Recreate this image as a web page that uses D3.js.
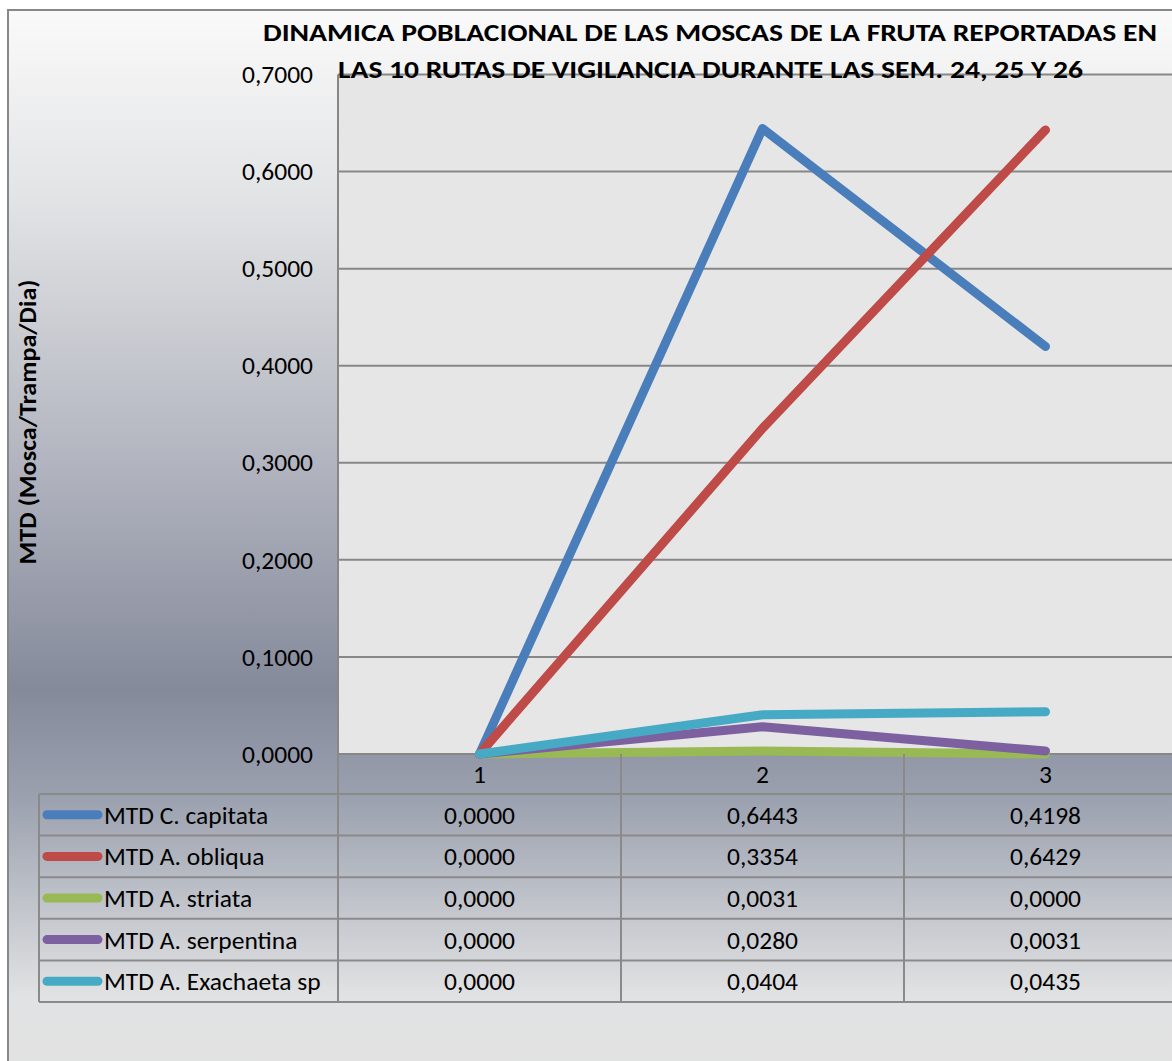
<!DOCTYPE html>
<html><head><meta charset="utf-8">
<script src="https://cdn.jsdelivr.net/npm/d3@7"></script>
<style>body{margin:0;background:#fff}svg{display:block}</style>
</head><body>
<script>
const categories = ["1", "2", "3"];
const seriesNames = ["MTD C. capitata", "MTD A. obliqua", "MTD A. striata", "MTD A. serpentina", "MTD A. Exachaeta sp"];
const capitata = [0.0000, 0.6443, 0.4198];
const obliqua = [0.0000, 0.3354, 0.6429];
const striata = [0.0000, 0.0031, 0.0000];
const serpentina = [0.0000, 0.0280, 0.0031];
const exachaeta = [0.0000, 0.0404, 0.0435];
const yTicks = [0, 0.1, 0.2, 0.3, 0.4, 0.5, 0.6, 0.7];
const colors = ["#4a7ebb", "#be4b48", "#98b954", "#7d60a0", "#46aac5"];
const titleLines = ["DINAMICA POBLACIONAL DE LAS MOSCAS DE LA FRUTA REPORTADAS EN", "LAS 10 RUTAS DE VIGILANCIA  DURANTE LAS SEM. 24, 25 Y 26"];
const yTitle = "MTD (Mosca/Trampa/Dia)";

const series = [capitata, obliqua, striata, serpentina, exachaeta].map((v, i) => ({name: seriesNames[i], values: v, color: colors[i]}));
const fmt = v => v.toFixed(4).replace(".", ",");

const W = 1172, H = 1061;
const font = "Carlito, Calibri, Lato, 'Open Sans', sans-serif";
const fs = 25.5;
const svg = d3.select("body").append("svg").attr("width", W).attr("height", H);

const defs = svg.append("defs");
const g = defs.append("linearGradient").attr("id", "bg").attr("x1", 0).attr("y1", 0).attr("x2", 0).attr("y2", 1);
[[0, "#fafafa"], [0.18, "#e2e3e5"], [0.42, "#b3b6c0"], [0.64, "#858a9b"], [0.74, "#9aa0ae"], [0.93, "#e1e2e3"], [1, "#e2e2e2"]]
  .forEach(([o, c]) => g.append("stop").attr("offset", o).attr("stop-color", c));

svg.append("rect").attr("x", 8).attr("y", 10).attr("width", W).attr("height", H).attr("fill", "url(#bg)")
  .attr("stroke", "#888").attr("stroke-width", 2);

const plot = {left: 338, top: 74.5, bottom: 754};
const x = d3.scaleBand().domain(categories).range([plot.left, plot.left + 3 * 283]);
const y = d3.scaleLinear().domain([0, 0.7]).range([plot.bottom, plot.top]);

svg.append("rect").attr("x", plot.left).attr("y", plot.top).attr("width", W - plot.left + 20).attr("height", plot.bottom - plot.top).attr("fill", "#e6e6e6");

// gridlines
svg.append("g").selectAll("line").data(yTicks).join("line")
  .attr("x1", plot.left).attr("x2", W + 10).attr("y1", d => y(d)).attr("y2", d => y(d))
  .attr("stroke", "#878787").attr("stroke-width", 2);
svg.append("line").attr("x1", plot.left).attr("x2", plot.left).attr("y1", plot.top).attr("y2", plot.bottom)
  .attr("stroke", "#878787").attr("stroke-width", 2);

// y axis labels
const yAxis = d3.axisLeft(y).tickValues(yTicks).tickFormat(fmt).tickSize(0).tickPadding(25);
const ya = svg.append("g").attr("transform", `translate(${plot.left},0)`).call(yAxis);
ya.select(".domain").remove();
ya.selectAll("text").attr("font-family", font).attr("font-size", fs).attr("fill", "#000");

// title
svg.append("text").attr("x", 263).attr("y", 41).attr("textLength", 894).attr("lengthAdjust", "spacingAndGlyphs")
  .attr("font-family", font).attr("font-weight", "bold").attr("font-size", 25).text(titleLines[0]);
svg.append("text").attr("x", 338).attr("y", 78).attr("textLength", 745).attr("lengthAdjust", "spacingAndGlyphs")
  .attr("font-family", font).attr("font-weight", "bold").attr("font-size", 25).text(titleLines[1]);

// y title
svg.append("text").attr("transform", "translate(36,422) rotate(-90)").attr("text-anchor", "middle")
  .attr("textLength", 285).attr("lengthAdjust", "spacingAndGlyphs")
  .attr("font-family", font).attr("font-weight", "bold").attr("font-size", 25).text(yTitle);

// lines
const line = d3.line().x((d, i) => x(categories[i]) + x.bandwidth() / 2).y(d => y(d));
svg.append("g").selectAll("path").data(series).join("path")
  .attr("d", d => line(d.values)).attr("fill", "none").attr("stroke", d => d.color)
  .attr("stroke-width", 9).attr("stroke-linejoin", "round").attr("stroke-linecap", "round");

// data table
const rowH = 41.6, headTop = plot.bottom, headBot = 794, tblLeft = 39;
const tcol = "#8a8a8a";
const tbl = svg.append("g");
const rowYs = d3.range(series.length + 1).map(i => headBot + i * rowH);
tbl.selectAll("line.h").data(rowYs).join("line").attr("class", "h")
  .attr("x1", tblLeft).attr("x2", W + 10).attr("y1", d => d).attr("y2", d => d)
  .attr("stroke", tcol).attr("stroke-width", 2);
const colXs = [plot.left].concat(categories.map(c => x(c) + x.bandwidth()));
tbl.selectAll("line.v").data(colXs).join("line").attr("class", "v")
  .attr("x1", d => d).attr("x2", d => d).attr("y1", headTop).attr("y2", rowYs[rowYs.length - 1])
  .attr("stroke", tcol).attr("stroke-width", 2);
tbl.append("line").attr("x1", tblLeft).attr("x2", tblLeft).attr("y1", headBot).attr("y2", rowYs[rowYs.length - 1])
  .attr("stroke", tcol).attr("stroke-width", 2);
tbl.selectAll("text.cat").data(categories).join("text").attr("class", "cat")
  .attr("x", d => x(d) + x.bandwidth() / 2).attr("y", (headTop + headBot) / 2).attr("dy", "0.35em")
  .attr("text-anchor", "middle").attr("font-family", font).attr("font-size", fs).text(d => d);
series.forEach((s, i) => {
  const cy = headBot + i * rowH + rowH / 2;
  tbl.append("line").attr("x1", 47).attr("x2", 98).attr("y1", cy).attr("y2", cy)
    .attr("stroke", s.color).attr("stroke-width", 9).attr("stroke-linecap", "round");
  tbl.append("text").attr("x", 104).attr("y", cy).attr("dy", "0.35em")
    .attr("font-family", font).attr("font-size", fs).text(s.name);
  s.values.forEach((v, j) => {
    tbl.append("text").attr("x", x(categories[j]) + x.bandwidth() / 2).attr("y", cy).attr("dy", "0.35em")
      .attr("text-anchor", "middle").attr("font-family", font).attr("font-size", fs).text(fmt(v));
  });
});
</script>
</body></html>
